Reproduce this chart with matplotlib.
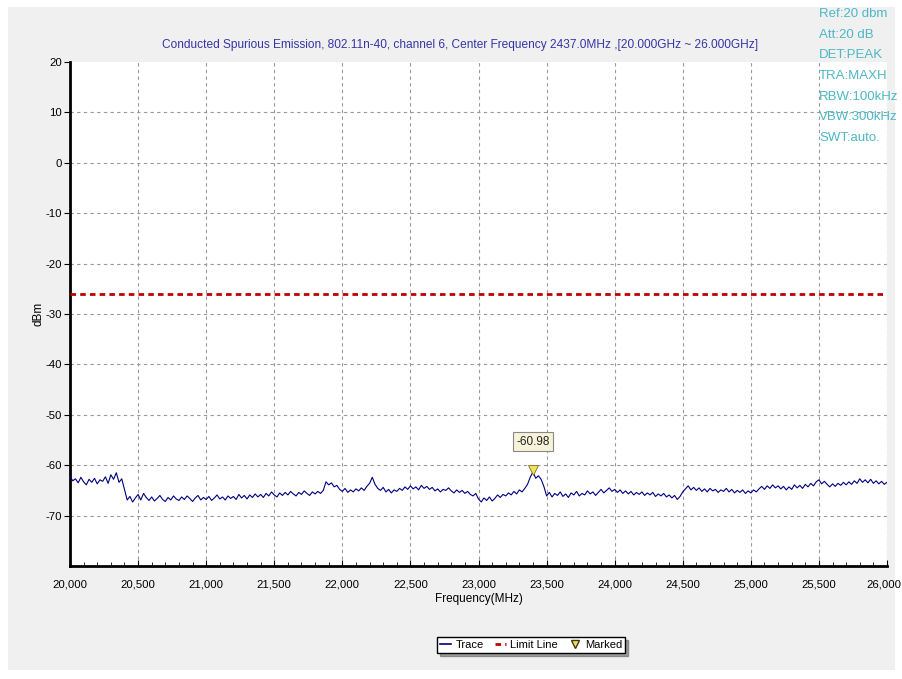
import matplotlib.pyplot as plt
import matplotlib.patches as mpatches
import matplotlib.transforms as mtransforms
from matplotlib.lines import Line2D
import numpy as np

plt.rcParams['font.family'] = ['Liberation Sans', 'DejaVu Sans']
plt.rcParams['axes.unicode_minus'] = False

# Trace values, 20 MHz apart from 20000 to 26000 MHz
trace = [
    -62.2, -63.1, -62.7, -63.5, -62.4, -63.3, -63.9, -62.8, -63.4, -62.6,
    -63.7, -62.9, -63.2, -62.3, -63.6, -61.9, -62.8, -61.5, -63.4, -62.7,
    -64.8, -66.9, -66.2, -67.3, -66.5, -65.8, -66.9, -65.6, -66.4, -67.0,
    -66.3, -67.1, -66.6, -66.0, -66.8, -67.2, -66.4, -66.9, -66.1, -66.7,
    -67.0, -66.3, -66.8, -66.1, -66.6, -67.2, -66.5, -66.0, -66.9, -66.4,
    -66.8, -66.2, -67.0, -66.5, -65.9, -66.7, -66.3, -66.9, -66.1, -66.6,
    -66.2, -66.8, -65.8, -66.5, -66.0, -66.7, -65.9, -66.4, -65.7, -66.3,
    -65.8, -66.4, -65.6, -66.1, -65.3, -65.9, -66.3, -65.5, -66.0, -65.4,
    -65.9, -65.2, -65.7, -66.1, -65.4, -65.8, -65.1, -65.6, -66.0, -65.3,
    -65.7, -65.2, -65.6, -65.0, -63.3, -63.9, -63.5, -64.3, -64.0, -64.8,
    -65.2, -64.6, -65.4, -64.9, -65.3, -64.7, -65.1, -64.5, -65.0, -64.2,
    -63.6, -62.4, -63.8, -64.6, -65.0, -64.4, -65.3, -64.8, -65.5, -64.9,
    -65.2, -64.6, -65.0, -64.3, -64.8, -64.1, -64.7, -64.3, -64.9, -64.0,
    -64.6, -64.2, -64.8, -64.4, -65.1, -64.7, -65.3, -64.8, -65.0, -64.5,
    -65.1, -65.5, -64.9, -65.4, -65.0, -65.6, -65.2, -65.8, -66.1, -65.6,
    -66.7, -67.3, -66.5, -67.0, -66.3, -67.1, -66.6, -65.9, -66.4, -65.8,
    -66.1, -65.5, -65.9, -65.2, -65.7, -64.9, -65.3, -64.6, -63.8, -62.4,
    -61.3, -62.6, -62.1, -62.8, -64.2, -66.1, -65.4, -66.3, -65.6, -66.0,
    -65.3, -66.2, -65.7, -66.4, -65.5, -65.9, -65.2, -66.1, -65.6, -65.9,
    -65.1, -65.7, -65.3, -66.0, -65.4, -64.8, -65.5, -65.0, -64.5, -65.2,
    -64.8, -65.4, -64.9, -65.6, -65.1, -65.7, -65.2, -65.9, -65.4, -65.8,
    -65.3, -66.0, -65.5, -65.9, -65.4, -66.2, -65.7, -66.1, -65.6, -66.3,
    -65.9, -66.5, -66.0, -66.8, -66.2, -65.3, -64.7, -64.1, -64.9, -64.4,
    -65.0, -64.5, -65.2, -64.7, -65.3, -64.6, -65.1, -64.8, -65.4, -64.9,
    -65.2, -64.6, -65.3, -64.8, -65.5, -65.0, -65.4, -64.9, -65.6, -65.1,
    -65.5, -64.9, -65.3, -64.7, -64.2, -64.8, -64.1, -64.6, -63.9, -64.5,
    -64.1, -64.7, -64.2, -64.9, -64.3, -64.8, -63.9, -64.5, -64.0, -64.6,
    -63.8, -64.3, -63.6, -64.1, -63.3, -62.9, -63.7, -63.2, -63.8, -64.3,
    -63.7, -64.2, -63.6, -64.0, -63.4, -63.9, -63.3, -63.8, -63.1, -63.6,
    -62.7, -63.4, -62.9, -63.5, -62.8, -63.6, -63.1, -63.7, -63.2, -63.8,
    -63.4,
]
freq = np.linspace(20000, 26000, len(trace))

limit = -26.0
marker_freq = 23400
marker_level = -60.98

settings = ['Ref:20 dbm', 'Att:20 dB', 'DET:PEAK', 'TRA:MAXH',
            'RBW:100kHz', 'VBW:300kHz', 'SWT:auto.']

fig = plt.figure(figsize=(9.02, 6.79), dpi=100)
fig.patch.set_facecolor('white')
fig.patches.append(mpatches.Rectangle((8 / 902, 9 / 679), 887 / 902, 663 / 679,
                                      transform=fig.transFigure,
                                      facecolor='#f0f0f0', edgecolor='none', zorder=-5))

ax = fig.add_axes([70 / 902, 1 - 566 / 679, 817 / 902, 504 / 679])
ax.set_facecolor('white')

ax.plot(freq, trace, color='#000080', lw=0.8, zorder=3)
ax.axhline(limit, color='#c00000', lw=2, ls=(0, (2, 1.5)), zorder=3)
ax.plot([marker_freq], [marker_level], marker='v', ms=7, color='#f0e060',
        markeredgecolor='#807020', mew=0.6, zorder=4)
ax.annotate(f'{marker_level:.2f}', (marker_freq, marker_level),
            xytext=(0, 16), textcoords='offset points', ha='center', va='bottom',
            fontsize=8.5, color='#222222',
            bbox=dict(boxstyle='square,pad=0.3', fc='#f7f3d8', ec='#888888', lw=0.8))

ax.set_xlim(20000, 26000)
ax.set_ylim(-80, 20)
ax.set_xticks(np.arange(20000, 26001, 500))
ax.set_xticks(np.arange(20000, 26001, 100), minor=True)
ax.set_xticklabels([f'{v:,}' for v in range(20000, 26001, 500)])
ax.set_yticks(np.arange(-70, 21, 10))
ax.tick_params(axis='x', direction='in', length=4, labelsize=8.2, pad=10)
ax.tick_params(axis='x', which='minor', direction='in', length=3)
ax.tick_params(axis='y', direction='out', length=4, labelsize=8.2, pad=2)
ax.grid(True, color='#999999', ls=(0, (3, 3)), lw=0.8)
# no dashed line along the top edge
ax.get_ygridlines()[-1].set_visible(False)

# last x label sits at the right edge, nudge it inwards a little
last = ax.get_xticklabels()[-1]
last.set_transform(last.get_transform() +
                   mtransforms.ScaledTranslation(-3 / 100, 0, fig.dpi_scale_trans))

for s in ['top', 'right']:
    ax.spines[s].set_visible(False)
for s in ['left', 'bottom']:
    ax.spines[s].set_linewidth(2)
    ax.spines[s].set_color('black')

ax.set_xlabel('Frequency(MHz)', fontsize=8.5, labelpad=2)
ax.set_ylabel('dBm', fontsize=8.5)
ax.yaxis.set_label_coords(-26 / 817, 0.5)

fig.text(460 / 902, 1 - 45 / 679,
         'Conducted Spurious Emission, 802.11n-40, channel 6, Center Frequency 2437.0MHz ,[20.000GHz ~ 26.000GHz]',
         ha='center', va='center', fontsize=8.6, color='#3535a5')

for i, s in enumerate(settings):
    fig.text(819 / 902, 1 - (14 + i * 20.7) / 679, s, ha='left', va='center',
             fontsize=9.5, color='#4cb8c4')

handles = [Line2D([], [], color='#000080', lw=1.2),
           Line2D([], [], color='#c00000', lw=2, ls=(0, (2, 1.5))),
           Line2D([], [], ls='none', marker='v', color='#f0e060',
                  markeredgecolor='#403810', ms=6)]
leg = fig.legend(handles, ['Trace', 'Limit Line', 'Marked'], ncol=3,
                 loc='center', bbox_to_anchor=(531 / 902, 1 - 645 / 679),
                 fontsize=8, frameon=True, fancybox=False, shadow=True,
                 handlelength=1.0, handletextpad=0.4, columnspacing=1.0,
                 borderpad=0.25)
leg.get_frame().set_edgecolor('black')
leg.get_frame().set_linewidth(1)

fig.savefig('out.png', dpi=100)
